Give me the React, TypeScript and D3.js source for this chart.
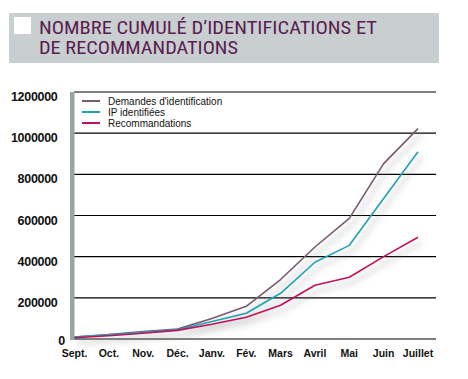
import React from "react";
import * as d3 from "d3";

const months = ["Sept.", "Oct.", "Nov.", "Déc.", "Janv.", "Fév.", "Mars", "Avril", "Mai", "Juin", "Juillet"];
const demandes = [10000, 22000, 36000, 48000, 100000, 159000, 289000, 447000, 586000, 852000, 1022000];
const ipIdentifiees = [10000, 20000, 33000, 45000, 85000, 125000, 222000, 373000, 455000, 683000, 910000];
const recommandations = [6000, 16000, 28000, 42000, 72000, 106000, 164000, 261000, 300000, 400000, 494000];
const yTicks = [0, 200000, 400000, 600000, 800000, 1000000, 1200000];
const seriesNames = ["Demandes d'identification", "IP identifiées", "Recommandations"];
const titleLines = ["NOMBRE CUMULÉ D’IDENTIFICATIONS ET", "DE RECOMMANDATIONS"];

const colors = ["#7b5872", "#1fa2b3", "#c2105c"];

export default function App() {
  const W = 468, H = 379;
  const x = d3.scalePoint<string>().domain(months).range([74.5, 418]);
  const y = d3.scaleLinear().domain([0, 1200000]).range([339, 92]);
  const line = d3.line<number>().x((_, i) => x(months[i]) as number).y((d) => y(d));
  const series = [demandes, ipIdentifiees, recommandations];
  const bold = "'Liberation Sans', Arial, Helvetica, sans-serif";

  return (
    <svg width={W} height={H} style={{ position: "absolute", left: 0, top: 0 }}>
      <defs>
        <filter id="sh" x="-10%" y="-10%" width="130%" height="130%">
          <feGaussianBlur stdDeviation="3" />
        </filter>
      </defs>
      <rect width={W} height={H} fill="#fff" />
      {/* title bar */}
      <rect x={9} y={13} width={430} height={50} fill="#c9ced0" />
      <rect x={14} y={17} width={17} height={17} fill="#fff" />
      {titleLines.map((t, i) => (
        <text
          key={i}
          x={39}
          y={34 + i * 20}
          fontSize={18}
          fill="#5a1d50"
          fontFamily="'Liberation Sans Narrow', 'Arial Narrow', 'Roboto Condensed', 'Liberation Sans', sans-serif"
          textLength={i === 0 ? 338 : 199}
          lengthAdjust="spacingAndGlyphs"
        >
          {t}
        </text>
      ))}
      {/* gridlines */}
      {yTicks.map((t) => (
        <line key={t} x1={74} x2={436} y1={y(t)} y2={y(t)} stroke="#000" strokeWidth={1.2} />
      ))}
      {/* y labels */}
      {yTicks.map((t) => (
        <text
          key={"l" + t}
          x={t === 0 ? 65 : 57.5}
          y={t === 0 ? 345 : y(t) + 9}
          textAnchor="end"
          fontSize={12.5}
          fontWeight="bold"
          fontFamily={bold}
          fill="#111"
          letterSpacing={-0.3}
        >
          {t}
        </text>
      ))}
      {/* left bar */}
      <rect x={70} y={92} width={4.5} height={248} fill="#97a6a3" />
      {/* x labels */}
      {months.map((m) => (
        <text
          key={m}
          x={x(m)}
          y={357}
          textAnchor="middle"
          fontSize={10.5}
          fontWeight="bold"
          fontFamily={bold}
          fill="#111"
        >
          {m}
        </text>
      ))}
      {/* shadows */}
      <g filter="url(#sh)" opacity={0.35} transform="translate(4,5)">
        {series.map((s, i) => (
          <path key={i} d={line(s) || ""} fill="none" stroke="#888" strokeWidth={3} />
        ))}
      </g>
      {/* lines */}
      {series.map((s, i) => (
        <path key={i} d={line(s) || ""} fill="none" stroke={colors[i]} strokeWidth={1.6} strokeLinejoin="round" />
      ))}
      {/* legend */}
      {seriesNames.map((n, i) => (
        <g key={n}>
          <line x1={82} x2={100} y1={101 + i * 11} y2={101 + i * 11} stroke={colors[i]} strokeWidth={2} />
          <text x={108} y={104.5 + i * 11} fontSize={10} fontFamily={bold} fill="#111">
            {n}
          </text>
        </g>
      ))}
    </svg>
  );
}
